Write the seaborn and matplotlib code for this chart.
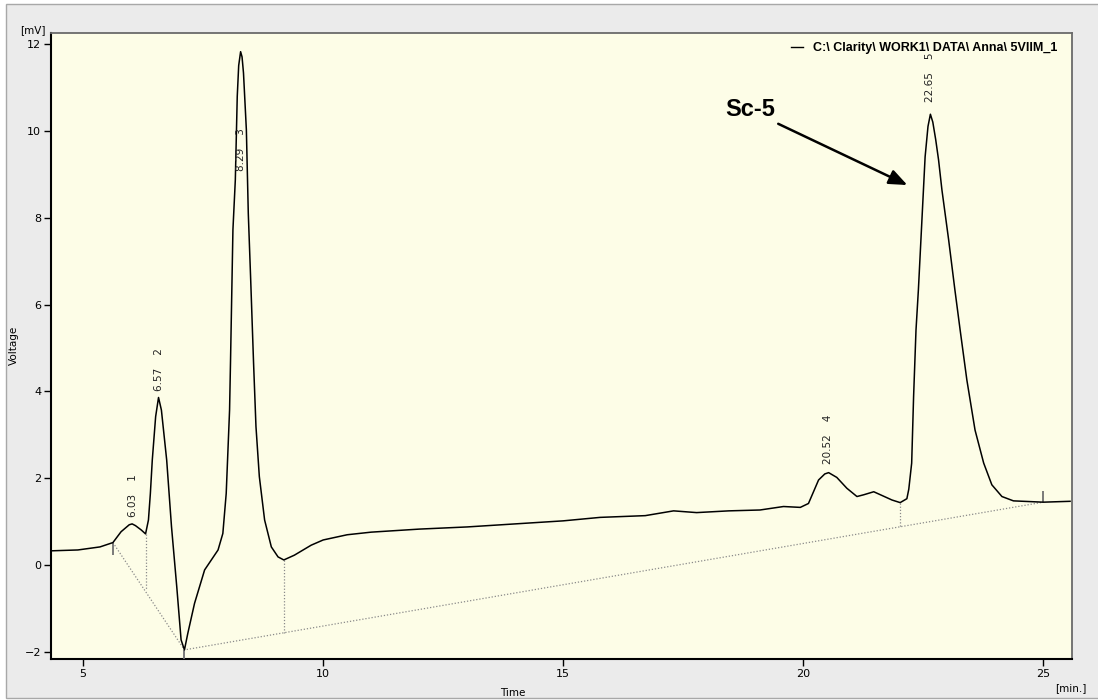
import numpy as np
import pandas as pd
import matplotlib
matplotlib.use("Agg")
import matplotlib.pyplot as plt
from matplotlib.patches import Rectangle
import seaborn as sns

# ---------------- data ----------------
time_min = [4.33, 4.89, 5.35, 5.62, 5.79, 5.96, 6.02, 6.09, 6.21, 6.30,
            6.36, 6.40, 6.44, 6.51, 6.57, 6.63, 6.74, 6.84, 6.95, 7.04,
            7.11, 7.18, 7.32, 7.53, 7.81, 7.91, 7.98, 8.05, 8.07, 8.12,
            8.17, 8.21, 8.24, 8.28, 8.31, 8.34, 8.40, 8.44, 8.49, 8.55,
            8.60, 8.67, 8.78, 8.92, 9.06, 9.18, 9.40, 9.75, 10.0, 10.5,
            11.0, 12.0, 13.0, 14.0, 15.0, 15.77, 16.71, 17.30, 17.78, 18.45,
            19.10, 19.59, 19.94, 20.11, 20.32, 20.45, 20.53, 20.70, 20.91, 21.12,
            21.26, 21.47, 21.67, 21.85, 22.02, 22.16, 22.20, 22.26, 22.30, 22.35,
            22.40, 22.47, 22.54, 22.60, 22.65, 22.70, 22.76, 22.82, 22.89, 23.03,
            23.16, 23.27, 23.41, 23.58, 23.76, 23.93, 24.14, 24.38, 25.0, 25.56]
voltage_mv = [0.33, 0.35, 0.42, 0.52, 0.77, 0.93, 0.95, 0.91, 0.81, 0.72,
              1.04, 1.65, 2.42, 3.42, 3.86, 3.57, 2.42, 0.89, -0.50, -1.72,
              -1.95, -1.57, -0.88, -0.11, 0.35, 0.73, 1.65, 3.57, 4.70, 7.72,
              8.87, 10.79, 11.50, 11.82, 11.70, 11.33, 10.02, 8.10, 6.57, 4.65,
              3.19, 2.04, 1.04, 0.42, 0.19, 0.12, 0.23, 0.46, 0.58, 0.70,
              0.76, 0.83, 0.88, 0.95, 1.02, 1.10, 1.14, 1.25, 1.21, 1.25,
              1.27, 1.35, 1.33, 1.42, 1.96, 2.10, 2.13, 2.02, 1.77, 1.58,
              1.62, 1.69, 1.59, 1.50, 1.44, 1.53, 1.75, 2.35, 3.88, 5.41,
              6.34, 7.87, 9.40, 10.10, 10.38, 10.20, 9.80, 9.33, 8.64, 7.49,
              6.34, 5.41, 4.26, 3.11, 2.35, 1.85, 1.58, 1.48, 1.45, 1.47]

series_name = "C:\\ Clarity\\ WORK1\\ DATA\\ Anna\\ 5VIIM_1"

# integration baseline vertices
baseline_t = [5.62, 7.11, 25.0]
baseline_v = [0.52, -1.95, 1.45]

# drop lines (valley time, signal value, baseline value)
drop_t = [6.30, 9.18, 22.02]
drop_top = [0.72, 0.12, 1.44]
drop_bottom = [-0.57, -1.57, 0.88]

# peak table
peak_no = [1, 2, 3, 4, 5]
peak_rt = [6.03, 6.57, 8.29, 20.52, 22.65]
peak_height = [0.95, 3.86, 11.82, 2.13, 10.38]

# peak start/end markers (time, from, to)
marker_t = [5.62, 7.11, 25.0]
marker_from = [0.52, -1.95, 1.45]
marker_to = [0.23, -2.16, 1.70]

x_ticks = [5, 10, 15, 20, 25]
y_ticks = [-2, 0, 2, 4, 6, 8, 10, 12]

# ---------------- figure ----------------
plt.rcParams["font.family"] = ["DejaVu Sans"]
fig = plt.figure(figsize=(10.98, 7.0), dpi=100, facecolor="white")
fig.patches.append(Rectangle((6 / 1098, 2 / 700), 1.1, 694 / 700,
                             transform=fig.transFigure, facecolor="#ebebeb",
                             edgecolor="#a8a8a8", linewidth=1.0, zorder=-10))

ax = fig.add_axes([51 / 1098, 1 - 659 / 700, (1072 - 51) / 1098, (659 - 33) / 700])
ax.set_facecolor("#fdfde7")

df = pd.DataFrame({"Time": time_min, "Voltage": voltage_mv})
sns.lineplot(data=df, x="Time", y="Voltage", color="black", linewidth=1.1,
             label=series_name, ax=ax, sort=False, estimator=None, zorder=5)

# baseline
ax.plot(baseline_t, baseline_v, color="#8a8a8a", linewidth=0.9,
        linestyle=(0, (1, 1.5)), zorder=3)
# drop lines
for t, a, b in zip(drop_t, drop_top, drop_bottom):
    ax.plot([t, t], [a, b], color="#8a8a8a", linewidth=0.9,
            linestyle=(0, (1, 1.5)), zorder=3)
# start/end markers
for t, a, b in zip(marker_t, marker_from, marker_to):
    ax.plot([t, t], [a, b], color="#707070", linewidth=1.3, zorder=4,
            solid_capstyle="butt")

# peak labels
label_offsets = [5, 5, -86, 6, 9]
for n, rt, h, off in zip(peak_no, peak_rt, peak_height, label_offsets):
    ax.annotate(f"{rt:.2f}    {n}", xy=(rt, h), xytext=(0, off),
                textcoords="offset points", rotation=90, ha="center",
                va="bottom", fontsize=7.5, color="#222222", zorder=6)

# Sc-5 annotation
ax.annotate("", xy=(22.17, 8.75), xytext=(19.48, 10.16),
            arrowprops=dict(arrowstyle="-|>,head_length=1.1,head_width=0.45",
                            color="black", lw=1.8, shrinkA=0, shrinkB=0), zorder=7)
ax.text(18.9, 10.5, "Sc-5", fontsize=17, fontweight="bold",
        family="Liberation Sans", ha="center", va="center", zorder=7)

ax.set_xlim(4.33, 25.6)
ax.set_ylim(-2.16, 12.25)
ax.set_xticks(x_ticks)
ax.set_yticks(y_ticks)
ax.tick_params(axis="both", direction="out", length=5, width=1.0,
               labelsize=8, pad=2, colors="black")
ax.grid(False)

for side in ["left", "bottom"]:
    ax.spines[side].set_color("black")
    ax.spines[side].set_linewidth(1.5)
for side in ["top", "right"]:
    ax.spines[side].set_color("#6a6a6a")
    ax.spines[side].set_linewidth(1.3)

ax.set_xlabel("")
ax.set_ylabel("")
fig.text(513 / 1098, 1 - 693 / 700, "Time", ha="center", va="center", fontsize=7.5)
fig.text(14 / 1098, 1 - 345 / 700, "Voltage", ha="center", va="center",
         fontsize=7.5, rotation=90)
fig.text(33 / 1098, 1 - 30 / 700, "[mV]", ha="center", va="center", fontsize=7.5)
fig.text(1071 / 1098, 1 - 688 / 700, "[min.]", ha="center", va="center", fontsize=7.5)

leg = ax.legend(loc="upper right", frameon=False, borderaxespad=0.0,
                bbox_to_anchor=(0.991, 0.993),
                handlelength=1.0, handletextpad=0.8,
                prop={"family": "Liberation Sans", "weight": "bold", "size": 9})
for line in leg.get_lines():
    line.set_linewidth(1.0)

fig.savefig("out.png", dpi=100, facecolor=fig.get_facecolor())
